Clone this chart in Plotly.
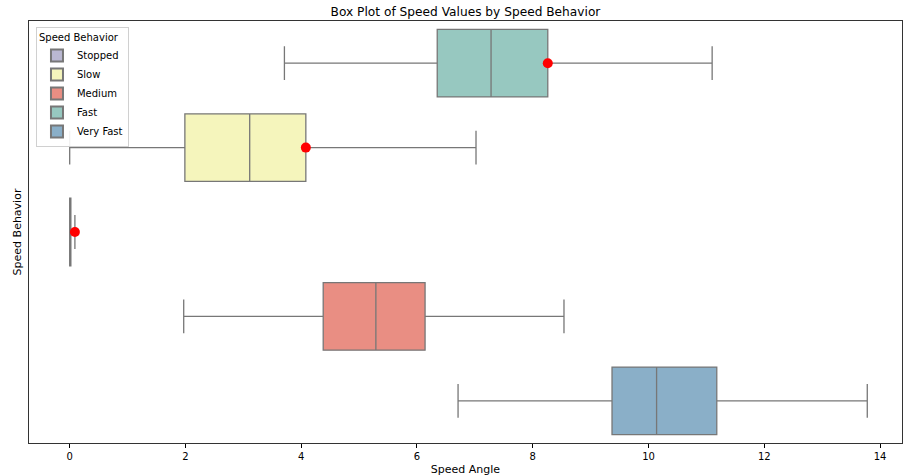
import plotly.graph_objects as go

# Box statistics per speed behaviour (Speed Angle units)
categories = ["Stopped", "Slow", "Medium", "Fast", "Very Fast"]
lower_fence = [0.0, 0.0, 1.97, 3.71, 6.71]
q1_values = [0.0, 1.99, 4.38, 6.35, 9.37]
medians = [0.01, 3.11, 5.29, 7.28, 10.14]
q3_values = [0.02, 4.08, 6.14, 8.26, 11.18]
upper_fence = [0.09, 7.02, 8.54, 11.10, 13.78]

# Highlighted points (red markers)
marker_categories = ["Fast", "Slow", "Stopped"]
marker_values = [8.26, 4.08, 0.09]

# Vertical order of the rows, top to bottom
row_order = ["Fast", "Slow", "Stopped", "Medium", "Very Fast"]

fill_colors = {
    "Stopped": "#bab8d2",
    "Slow": "#f5f5bc",
    "Medium": "#e98e83",
    "Fast": "#97c8c0",
    "Very Fast": "#8aafc8",
}

fig = go.Figure()

for i, cat in enumerate(categories):
    fig.add_trace(go.Box(
        name=cat,
        y=[cat],
        q1=[q1_values[i]],
        median=[medians[i]],
        q3=[q3_values[i]],
        lowerfence=[lower_fence[i]],
        upperfence=[upper_fence[i]],
        orientation="h",
        width=0.8,
        whiskerwidth=0.5,
        fillcolor=fill_colors[cat],
        line=dict(color="#777777", width=1.3),
        boxpoints=False,
        hoverinfo="x",
    ))

fig.add_trace(go.Scatter(
    x=marker_values,
    y=marker_categories,
    mode="markers",
    marker=dict(color="#ff0000", size=10),
    showlegend=False,
))

fig.update_layout(
    width=903,
    height=476,
    margin=dict(l=29, r=1, t=21, b=33),
    plot_bgcolor="white",
    paper_bgcolor="white",
    font=dict(family="DejaVu Sans", color="#000000", size=10),
    title=dict(
        text="Box Plot of Speed Values by Speed Behavior",
        x=0.5, xanchor="center", xref="paper",
        y=1 - 12 / 476, yanchor="middle",
        font=dict(size=12.2, family="DejaVu Sans"),
    ),
    legend=dict(
        title=dict(text="Speed Behavior", font=dict(size=10)),
        x=0.008, y=0.986, xanchor="left", yanchor="top",
        bgcolor="rgba(255,255,255,0.9)",
        bordercolor="#d0d0d0", borderwidth=1,
        font=dict(size=10),
        traceorder="normal",
        itemsizing="constant",
        itemwidth=30,
        tracegroupgap=0,
    ),
    showlegend=True,
)

fig.update_xaxes(
    range=[-0.703, 14.38],
    tickmode="array",
    tickvals=[0, 2, 4, 6, 8, 10, 12, 14],
    ticks="outside", ticklen=4, tickcolor="#000000", tickwidth=1,
    showgrid=False, zeroline=False,
    showline=True, linecolor="#333333", linewidth=1, mirror=True,
    title=dict(text="Speed Angle", font=dict(size=11), standoff=4),
    tickfont=dict(size=10),
)

fig.update_yaxes(
    type="category",
    categoryorder="array",
    categoryarray=row_order[::-1],
    range=[-0.5, 4.5],
    showticklabels=False, ticks="",
    showgrid=False, zeroline=False,
    showline=True, linecolor="#333333", linewidth=1, mirror=True,
    title=dict(text="Speed Behavior", font=dict(size=11), standoff=4),
)

fig.write_html("out.html")
